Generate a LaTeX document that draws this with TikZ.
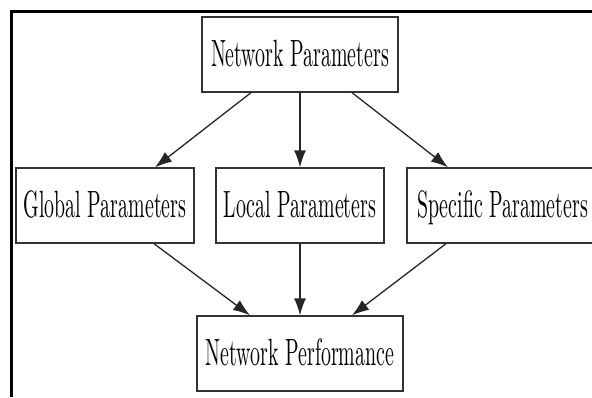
\documentclass[tikz,border=0pt]{standalone}
\usetikzlibrary{arrows.meta}
% labels use the 10pt design size, stretched to the box proportions
\newcommand{\boxlabel}[1]{\scalebox{1.99}[3.8]{\fontsize{10}{12}\selectfont #1}}
\begin{document}
\begin{tikzpicture}[x=1pt,y=1pt,
  box/.style={draw=black!80, line width=1.3pt, fill=white, inner sep=0pt,
    minimum height=75pt, text height=26pt, text depth=3pt},
  link/.style={draw=black!85, line width=1.3pt,
    -{Latex[length=17pt,width=12pt]}},
  frameline/.style={line width=3pt, black}]
\useasboundingbox (0,0) rectangle (592,-397);
\clip (0,0) rectangle (592,-397);
% outer frame (left and top edges)
\draw[frameline] (11,-397) -- (11,-11) -- (592,-11);
% boxes
\node[box, minimum width=196pt] (np) at (300,-54.5)
  {\boxlabel{Network Parameters}};
\node[box, minimum width=178pt] (gp) at (105,-205.5)
  {\boxlabel{Global Parameters}};
\node[box, minimum width=168pt] (lp) at (300,-205.5)
  {\boxlabel{Local Parameters}};
\node[box, minimum width=191pt] (sp) at (502.5,-205.5)
  {\boxlabel{Specific Parameters}};
\node[box, minimum width=206pt] (perf) at (300,-353.5)
  {\boxlabel{Network Performance}};
% connectors
\draw[link] ([xshift=-49pt]np.south) -- ([xshift=50pt]gp.north);
\draw[link] (np.south) -- (lp.north);
\draw[link] ([xshift=52pt]np.south) -- ([xshift=-54.5pt]sp.north);
\draw[link] ([xshift=49pt]gp.south) -- ([xshift=-50pt]perf.north);
\draw[link] (lp.south) -- (perf.north);
\draw[link] ([xshift=-56.5pt]sp.south) -- ([xshift=52pt]perf.north);
\end{tikzpicture}
\end{document}
